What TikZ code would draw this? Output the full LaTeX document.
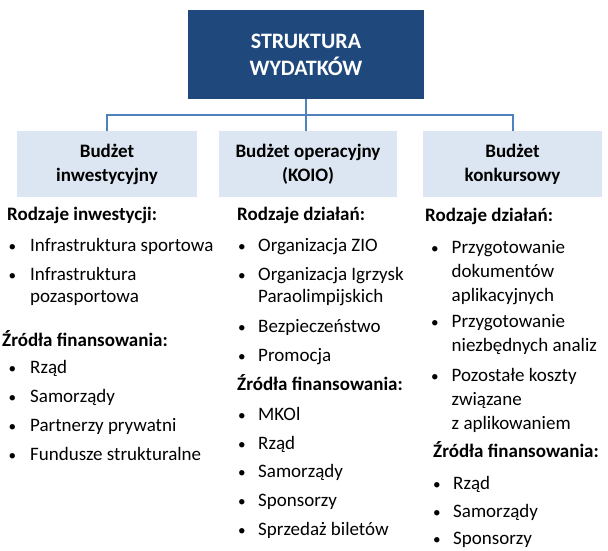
\documentclass[tikz,border=0pt]{standalone}
\usepackage{fontspec}
\setmainfont{Carlito}
\usepackage{xcolor}
\usepackage{graphicx}
\usetikzlibrary{positioning}

\definecolor{ciemny}{RGB}{31,73,125}
\definecolor{linia}{RGB}{79,129,189}
\definecolor{jasny}{RGB}{220,230,242}

% punkt listy: kropka w pudelku o szerokosci #1, potem wiersze #2
\newcommand{\kropka}[2]{\makebox[#1][l]{\scalebox{.8}{\textbullet}}\begin{tabular}[t]{@{}l@{}}#2\end{tabular}}

\begin{document}
\begin{tikzpicture}[x=1pt, y=-1pt,
  root/.style={rectangle, fill=ciemny, text=white, minimum width=236pt,
               minimum height=89pt, align=center,
               font=\fontsize{22}{27}\selectfont\bfseries},
  budget/.style={rectangle, fill=jasny, minimum width=180pt,
                 minimum height=66pt, align=center,
                 font=\fontsize{19}{24}\selectfont\bfseries},
  head/.style={anchor=base west, inner sep=0pt,
               font=\fontsize{19}{22}\selectfont\bfseries},
  entry/.style={anchor=base west, inner sep=0pt,
                font=\fontsize{19}{22}\selectfont},
  link/.style={draw=linia, line width=2pt}
]
  \useasboundingbox (0,0) rectangle (608,551);

  \node[root] (root) at (306,54.5) {STRUKTURA\\WYDATKÓW};
  \node[budget] (inw) at (107,164) {Budżet\\inwestycyjny};
  \node[budget, minimum width=178pt] (oper) at (308,164) {Budżet operacyjny\\(KOIO)};
  \node[budget, minimum width=179pt] (konk) at (512.5,164) {Budżet\\konkursowy};

  \draw[link] (root.south) -- ++(0,16) coordinate (rozg);
  \draw[link] (inw.north) |- (rozg) -| (konk.north);
  \draw[link] (rozg) -- (rozg |- oper.north);

  % kolumna 1
  \node[head] (h11) at (7,220) {Rodzaje inwestycji:};
  \node[entry] (e11) at (8.5,251) {\kropka{21.5pt}{Infrastruktura sportowa}};
  \node[entry] (e12) at (8.5,280) {\kropka{21.5pt}{Infrastruktura\\pozasportowa}};
  \node[head] (h12) at (2,346) {Źródła finansowania:};
  \node[entry] (e13) at (8.5,373) {\kropka{21.5pt}{Rząd}};
  \node[entry] (e14) at (8.5,402) {\kropka{21.5pt}{Samorządy}};
  \node[entry] (e15) at (8.5,431) {\kropka{21.5pt}{Partnerzy prywatni}};
  \node[entry] (e16) at (8.5,460) {\kropka{21.5pt}{Fundusze strukturalne}};

  % kolumna 2
  \node[head] (h21) at (237,220) {Rodzaje działań:};
  \node[entry] (e21) at (238,251) {\kropka{20pt}{Organizacja ZIO}};
  \node[entry] (e22) at (238,280) {\kropka{20pt}{Organizacja Igrzysk\\Paraolimpijskich}};
  \node[entry] (e23) at (238,332) {\kropka{20pt}{Bezpieczeństwo}};
  \node[entry] (e24) at (238,361) {\kropka{20pt}{Promocja}};
  \node[head] (h22) at (237,390) {Źródła finansowania:};
  \node[entry] (e25) at (238,420) {\kropka{20pt}{MKOl}};
  \node[entry] (e26) at (238,449) {\kropka{20pt}{Rząd}};
  \node[entry] (e27) at (238,477) {\kropka{20pt}{Samorządy}};
  \node[entry] (e28) at (238,506) {\kropka{20pt}{Sponsorzy}};
  \node[entry] (e29) at (238,535) {\kropka{20pt}{Sprzedaż biletów}};

  % kolumna 3
  \node[head] (h31) at (425,221) {Rodzaje działań:};
  \node[entry, font=\fontsize{19}{24}\selectfont] (e31) at (431,253)
    {\kropka{20.5pt}{Przygotowanie\\dokumentów\\aplikacyjnych}};
  \node[entry, font=\fontsize{19}{24}\selectfont] (e32) at (431,327)
    {\kropka{20.5pt}{Przygotowanie\\niezbędnych analiz}};
  \node[entry, font=\fontsize{19}{24}\selectfont] (e33) at (431,381)
    {\kropka{20.5pt}{Pozostałe koszty\\związane\\z aplikowaniem}};
  \node[head] (h32) at (433,457) {Źródła finansowania:};
  \node[entry] (e34) at (433,489) {\kropka{20pt}{Rząd}};
  \node[entry] (e35) at (433,517) {\kropka{20pt}{Samorządy}};
  \node[entry] (e36) at (433,544) {\kropka{20pt}{Sponsorzy}};
\end{tikzpicture}
\end{document}
